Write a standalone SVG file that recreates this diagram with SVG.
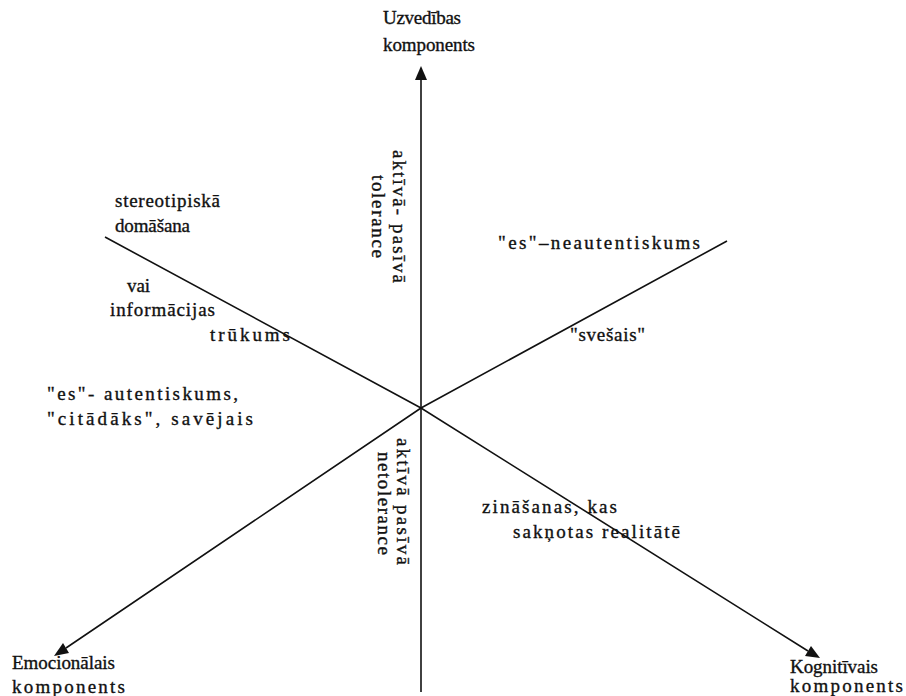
<svg xmlns="http://www.w3.org/2000/svg" width="906" height="696" viewBox="0 0 906 696">
<defs>
<style>
text{font-family:"Liberation Serif","Times New Roman",serif;font-size:19px;fill:#111;stroke:#111;stroke-width:0.35;}
.ax{stroke:#111;stroke-width:1.6;fill:none;}
.ah{fill:#111;stroke:none;}
</style>
</defs>
<rect width="906" height="696" fill="#fff"/>
<g id="connectors">
<line class="ax" x1="421" y1="78" x2="421" y2="692"/>
<polygon class="ah" points="421,66 415,80 427,80"/>
<polyline class="ax" points="105,237 421,408 808,651"/>
<polygon class="ah" points="820,658 805,656 811,646"/>
<polyline class="ax" points="727,241 421,408 66,648"/>
<polygon class="ah" points="54,656 63,643 69,653"/>
</g>
<g id="node-uzvedibas">
<text x="383" y="24" textLength="78">Uzvedības</text>
<text x="383" y="51" textLength="92">komponents</text>
</g>
<g id="node-emocionalais">
<text x="12" y="669" textLength="103">Emocionālais</text>
<text x="12" y="693" textLength="113">komponents</text>
</g>
<g id="node-kognitivais">
<text x="790" y="673" textLength="88">Kognitīvais</text>
<text x="790" y="692" textLength="113">komponents</text>
</g>
<g id="label-stereotipiska">
<text x="115" y="207" textLength="105">stereotipiskā</text>
<text x="115" y="232" textLength="75">domāšana</text>
</g>
<g id="label-informacijas">
<text x="127" y="292" textLength="23">vai</text>
<text x="110" y="316" textLength="105">informācijas</text>
<text x="210" y="341" textLength="80">trūkums</text>
</g>
<g id="label-neautentiskums">
<text x="498" y="249" textLength="202">"es"–neautentiskums</text>
</g>
<g id="label-svesais">
<text x="570" y="341" textLength="75">"svešais"</text>
</g>
<g id="label-autentiskums">
<text x="47" y="400" textLength="191">"es"- autentiskums,</text>
<text x="47" y="425" textLength="206">"citādāks", savējais</text>
</g>
<g id="label-zinasanas">
<text x="482" y="513" textLength="135">zināšanas, kas</text>
<text x="513" y="538" textLength="167">sakņotas realitātē</text>
</g>
<g id="label-tolerance">
<text transform="translate(393,150) rotate(90)" textLength="133">aktīvā- pasīvā</text>
<text transform="translate(372,175) rotate(90)" textLength="83">tolerance</text>
</g>
<g id="label-netolerance">
<text transform="translate(397,438) rotate(90)" textLength="127">aktīvā pasīvā</text>
<text transform="translate(378,452) rotate(90)" textLength="103">netolerance</text>
</g>
</svg>
